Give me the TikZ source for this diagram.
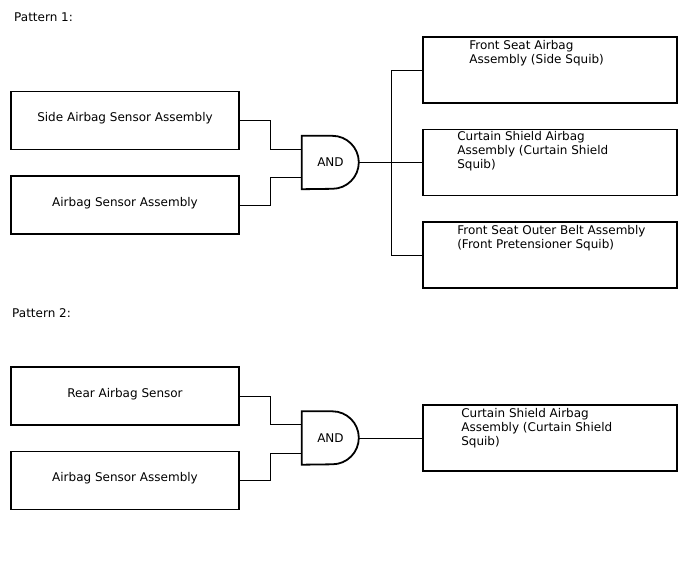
\documentclass[tikz,border=0pt]{standalone}
\usepackage{fontspec}
\setmainfont{DejaVu Sans}
\usetikzlibrary{positioning,calc}

\begin{document}
\begin{tikzpicture}[x=1pt, y=-1pt, >=latex, font=\fontsize{12}{14}\selectfont, %Pixelraster, y nach unten
					inbox/.style={draw, line width=1.8pt, minimum width=228pt, minimum height=58pt, inner sep=0pt},
					intext/.style={yshift=2pt},
					outbox/.style={draw, line width=1.8pt, minimum width=254pt, minimum height=66pt, inner sep=0pt},
					outtext/.style={align=left, inner sep=0pt, anchor=north west},
					gate/.style={minimum width=57pt, minimum height=53pt, inner sep=0pt},
					wire/.style={line width=1pt}]
					\useasboundingbox (0,0) rectangle (688,560);
					% Pattern 1
					\node[anchor=west, inner sep=0pt] (p1) at (14,17) {Pattern 1:};
					\node[inbox] (s1) at (125,120.5) {};
					\node[intext] (s1t) at (s1) {Side Airbag Sensor Assembly};
					\node[inbox] (a1) at (125,205) {};
					\node[intext] (a1t) at (a1) {Airbag Sensor Assembly};
					\node[gate] (g1) at (330.5,162.5) {AND};
					\draw[line width=1.8pt] (g1.north west) -- ++(30.5,0) arc[start angle=-90, end angle=90, radius=26.5] -- (g1.south west) -- cycle;
					\node[outbox] (o1) at (550,70) {};
					\node[outbox] (o2) at (550,162.5) {};
					\node[outbox] (o3) at (550,255) {};
					\node[outtext, below right=4pt and 47pt of o1.north west] (t1) {Front Seat Airbag\\Assembly (Side Squib)};
					\node[outtext, below right=3pt and 35pt of o2.north west] (t2) {Curtain Shield Airbag\\Assembly (Curtain Shield\\Squib)};
					\node[outtext, below right=4pt and 35pt of o3.north west] (t3) {Front Seat Outer Belt Assembly\\(Front Pretensioner Squib)};
					\draw[wire] (s1.east) -- ++(31,0) |- ($(g1.west)+(0,-13.5)$);
					\draw[wire] (a1.east) -- ++(31,0) |- ($(g1.west)+(0,14.5)$);
					\draw[wire] (g1.east) -- ++(32,0) coordinate (j1);
					\draw[wire] (o1.west) -| (j1) |- (o3.west);
					\draw[wire] (j1) -- (o2.west);
					% Pattern 2
					\node[anchor=west, inner sep=0pt] (p2) at (12,313) {Pattern 2:};
					\node[inbox] (s2) at (125,396) {};
					\node[intext] (s2t) at (s2) {Rear Airbag Sensor};
					\node[inbox] (a2) at (125,480.5) {};
					\node[intext] (a2t) at (a2) {Airbag Sensor Assembly};
					\node[gate] (g2) at (330.5,438) {AND};
					\draw[line width=1.8pt] (g2.north west) -- ++(30.5,0) arc[start angle=-90, end angle=90, radius=26.5] -- (g2.south west) -- cycle;
					\node[outbox] (o4) at (550,438) {};
					\node[outtext, below right=4pt and 39pt of o4.north west] (t4) {Curtain Shield Airbag\\Assembly (Curtain Shield\\Squib)};
					\draw[wire] (s2.east) -- ++(31,0) |- ($(g2.west)+(0,-14)$);
					\draw[wire] (a2.east) -- ++(31,0) |- ($(g2.west)+(0,15)$);
					\draw[wire] (g2.east) -- (o4.west);
				\end{tikzpicture}
\end{document}
